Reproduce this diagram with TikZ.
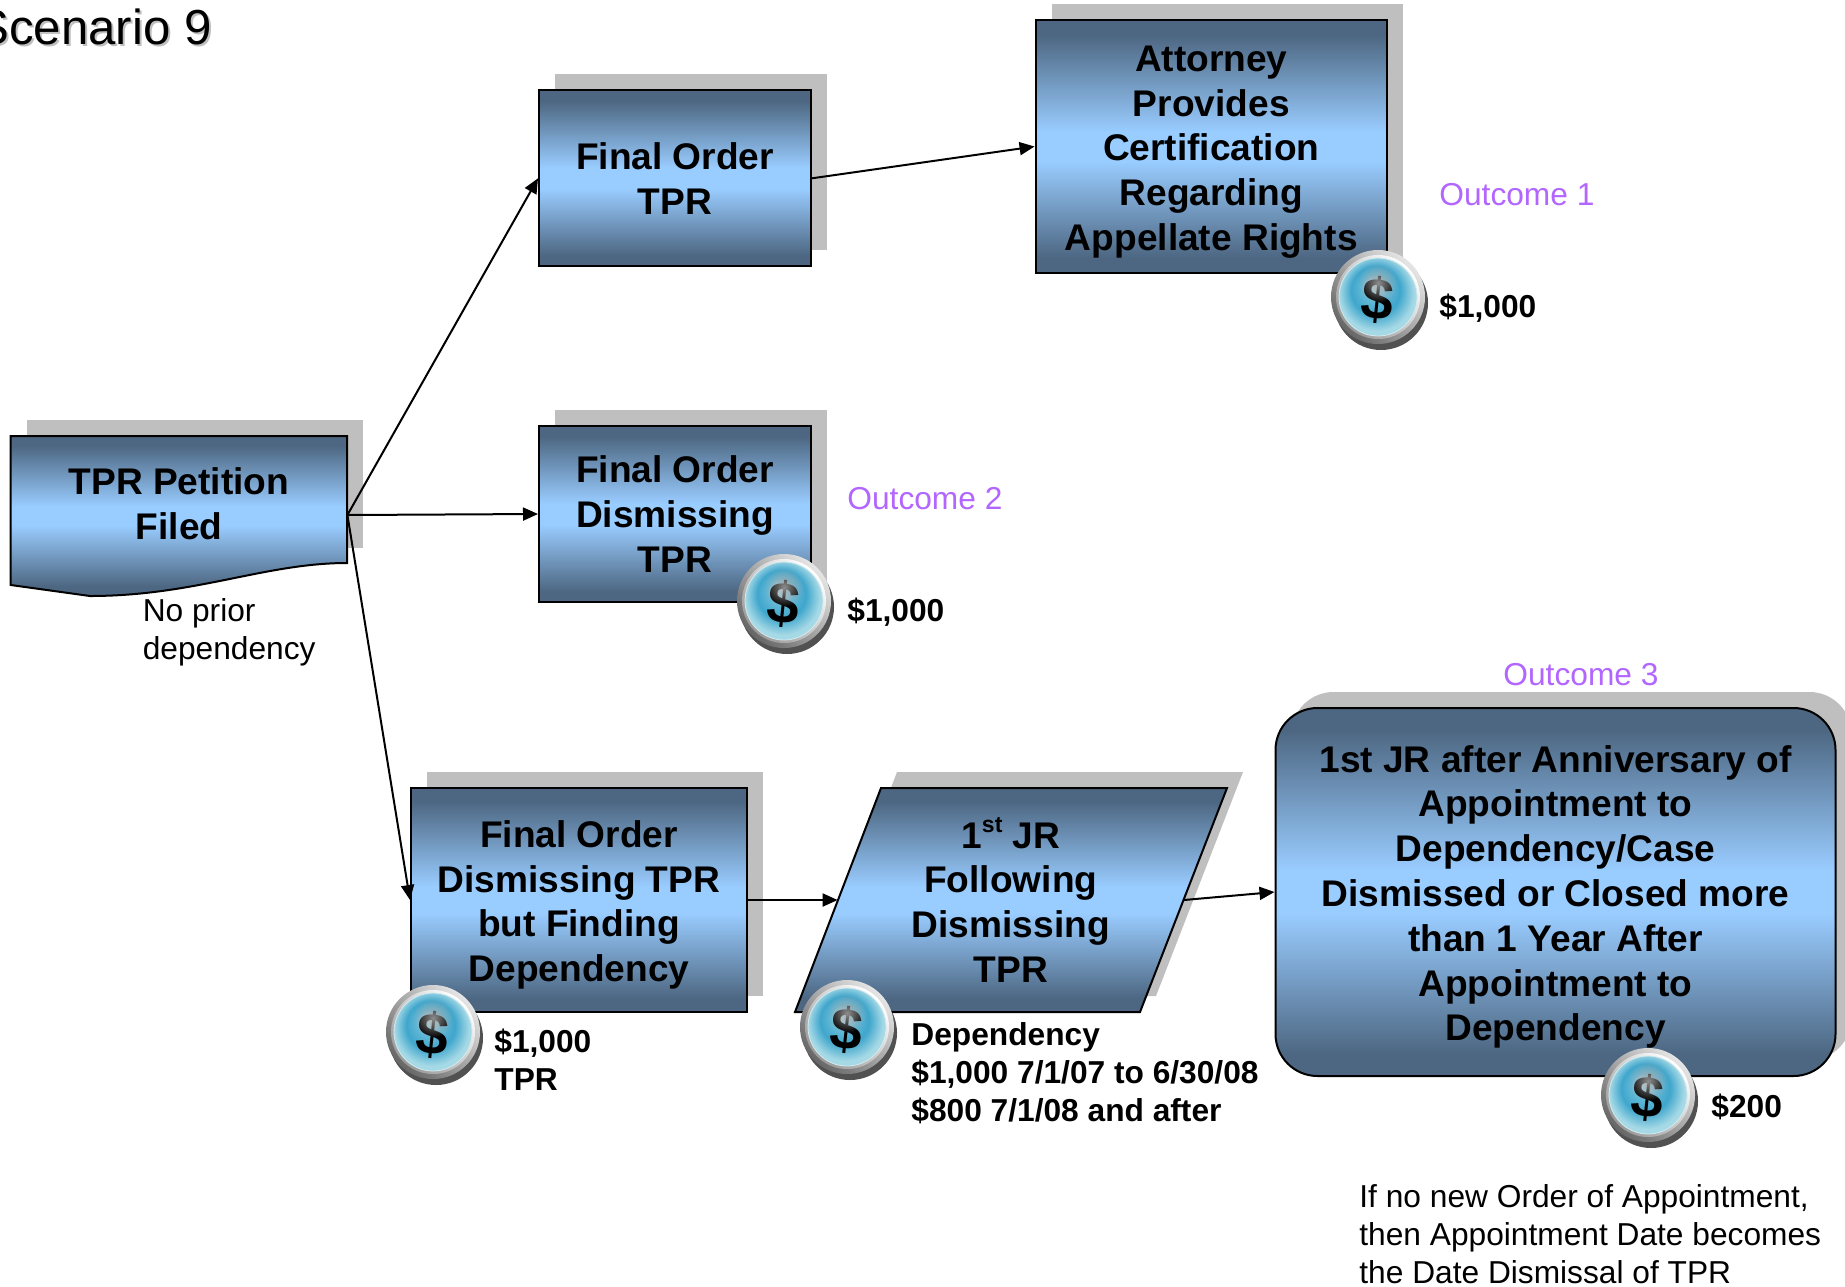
\documentclass[tikz,border=0pt]{standalone}
\usepackage{fontspec}
\setmainfont{Liberation Sans}
\usetikzlibrary{arrows.meta,shadows,fadings}
\definecolor{boxdark}{HTML}{4D6782}
\definecolor{boxlight}{HTML}{99CCFF}
\definecolor{shadowgray}{HTML}{BFBFBF}
\definecolor{outcomepurple}{HTML}{B266FF}
\definecolor{coinpale}{HTML}{D3EAEE}
\definecolor{coinmid}{HTML}{62B8D6}
\definecolor{coinedge}{HTML}{3FA6CC}
\definecolor{coinlow}{HTML}{A6D9E6}
\pgfdeclareverticalshading{boxgrad}{100bp}{%
  color(0bp)=(boxdark); color(28bp)=(boxdark);
  color(47bp)=(boxlight); color(53bp)=(boxlight);
  color(72bp)=(boxdark); color(100bp)=(boxdark)}
\pgfdeclareradialshading{coinball}{\pgfpoint{-0.1cm}{0.28cm}}{%
  color(0cm)=(coinpale);
  color(0.3cm)=(coinmid);
  color(0.55cm)=(coinedge);
  color(0.85cm)=(coinlow);
  color(1.2cm)=(coinlow)}
\tikzfading[name=glowfade, inner color=transparent!0, outer color=transparent!100]
\newcommand\firstline{\rule{0pt}{13pt}}
\newcommand\lowertext{\rule{0pt}{18.3pt}}
\tikzset{
  boxfont/.style={font=\fontsize{18.55}{22.4}\selectfont\bfseries},
  boxnode/.style={draw=black,line width=1pt,inner sep=0pt,align=center,
    shade,shading=boxgrad,boxfont,
    drop shadow={shadow xshift=8pt,shadow yshift=8pt,fill=shadowgray,opacity=1}},
  boxtext/.style={inner sep=0pt,align=center,boxfont},
  outline/.style={draw=black,line width=1pt,shade,shading=boxgrad},
  hidden/.style={inner sep=0pt},
  link/.style={draw=black,line width=1pt,-{Triangle[length=7.5pt,width=6.5pt]}},
  plainlab/.style={anchor=north west,inner sep=0pt,align=left,font=\fontsize{15.85}{19}\selectfont},
  boldlab/.style={plainlab,font=\fontsize{15.85}{19}\selectfont\bfseries},
  outlab/.style={plainlab,text=outcomepurple},
}
\newcommand\coin[3]{%
  \fill[black!85,opacity=.8] (#2+3,#3+6) circle[radius=23.5pt];
  \shade[left color=black!10,right color=black!60,shading angle=-45] (#2,#3) circle[radius=23.5pt];
  \shade[left color=white,right color=black!40,shading angle=-45] (#2,#3) circle[radius=21pt];
  \path[shade,shading=coinball,draw=coinpale,line width=.4pt] (#2,#3) circle[radius=19.5pt];
  \node[inner sep=0pt,rotate=-6,font=\fontsize{29}{30}\selectfont\bfseries] (#1) at (#2,#3+3) {\$};
  \fill[black!35,opacity=.85,path fading=glowfade] (#2,#3-14) circle[radius=10pt];}
\begin{document}
\begin{tikzpicture}[x=.5pt,y=-.5pt]
\useasboundingbox (0,0) rectangle (1845,1286);

\node[anchor=base west,inner sep=0pt,font=\fontsize{24.6}{28}\selectfont] (title) at (-24,44)
  {\rlap{\hspace{1pt}\raisebox{-1pt}{\textcolor{shadowgray}{Scenario 9}}}Scenario 9};

% petition (shadow + shape)
\fill[shadowgray] (27,420) rectangle (363,548);
\path[outline] (10.7,436) -- (347,436) -- (347,563)
  .. controls (265,563) and (195,596) .. (90,596) -- (10.7,585) -- cycle;
\node[hidden,minimum width=168.15pt,minimum height=79pt] (petition) at (178.85,515) {};
\node[boxtext] (petitiontext) at (179,504) {TPR Petition\\Filed};

\node[boxnode,minimum width=136pt,minimum height=88pt] (orderTPR) at (675,178.3) {Final Order\\TPR};
\node[boxnode,minimum width=175.75pt,minimum height=126.5pt] (attorney) at (1211.3,146.5)
  {\lowertext Attorney\\Provides\\Certification\\Regarding\\Appellate Rights};
\node[boxnode,minimum width=136pt,minimum height=88pt] (dismiss) at (675,514)
  {Final Order\\Dismissing\\TPR};
\node[boxnode,minimum width=168pt,minimum height=112pt] (finding) at (579,900)
  {\lowertext Final Order\\Dismissing TPR\\but Finding\\Dependency};

% parallelogram
\fill[shadowgray] (897,772) -- (1243,772) -- (1156,996) -- (811,996) -- cycle;
\path[outline] (881,788) -- (1227,788) -- (1140,1012) -- (795,1012) -- cycle;
\node[hidden,minimum width=172.75pt,minimum height=112pt,align=center,boxfont] (firstjr) at (1010.75,900)
  {\rule{0pt}{14.6pt}1\raisebox{.42em}{\fontsize{11.5}{12}\selectfont st} JR\\Following\\Dismissing\\TPR};

\node[boxnode,rounded corners=21pt,minimum width=280pt,minimum height=184pt] (anniv) at (1555.5,892)
  {\lowertext 1st JR after Anniversary of\\Appointment to\\Dependency/Case\\Dismissed or Closed more\\than 1 Year After\\Appointment to\\Dependency};

% connectors
\draw[link] (petition.east) -- (orderTPR.west);
\draw[link] (petition.east) -- (dismiss.west);
\draw[link] (petition.east) -- (finding.west);
\draw[link] (orderTPR.east) -- (attorney.west);
\draw[link] (finding.east) -- (firstjr.west);
\draw[link] (firstjr.east) -- (anniv.west);

% coins
\coin{coinA}{1378}{297}
\coin{coinB}{784}{601}
\coin{coinC}{433}{1032}
\coin{coinD}{847}{1027}
\coin{coinE}{1648}{1095}

% labels
\node[outlab] (outA) at (1439,179) {\firstline Outcome 1};
\node[boldlab] (amtA) at (1439,291) {\firstline \$1,000};
\node[outlab] (outB) at (847,483.5) {\firstline Outcome 2};
\node[boldlab] (amtB) at (847,595) {\firstline \$1,000};
\node[plainlab] (noprior) at (142.4,595) {\firstline No prior\\dependency};
\node[boldlab] (amtC) at (494,1026.5) {\firstline \$1,000\\TPR};
\node[boldlab] (amtD) at (911,1019) {\firstline Dependency\\\$1,000 7/1/07 to 6/30/08\\\$800 7/1/08 and after};
\node[outlab] (outC) at (1503,659) {\firstline Outcome 3};
\node[boldlab] (amtE) at (1711,1091) {\firstline \$200};
\node[plainlab] (ifno) at (1359,1181) {\firstline If no new Order of Appointment,\\then Appointment Date becomes\\the Date Dismissal of TPR};
\end{tikzpicture}
\end{document}
